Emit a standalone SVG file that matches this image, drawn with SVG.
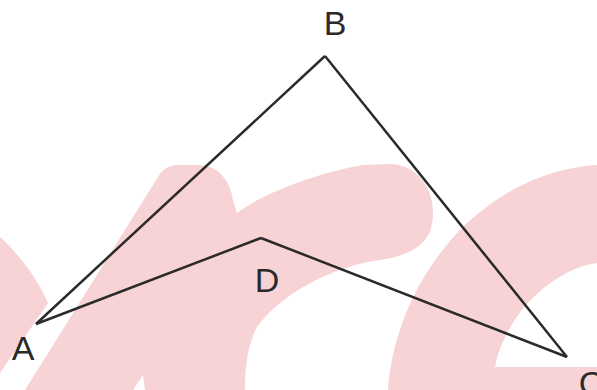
<svg xmlns="http://www.w3.org/2000/svg" width="597" height="390" viewBox="0 0 597 390">
<style>
.wm{fill:#f8d3d5;stroke:none}
.edge{stroke:#2a2a2a;stroke-width:2.5;fill:none;stroke-linejoin:miter}
.lbl{font-family:"Liberation Sans",Arial,sans-serif;font-size:34px;fill:#2a2a2a;text-anchor:middle}
</style>
<rect width="597" height="390" fill="#ffffff"/>
<g id="watermark">
<path class="wm" d="M0,237 C20,255 38,280 48,303 L0,373 Z"/>
<path class="wm" d="M25,390 L158,177 C163,168 170,165 180,165 L198,165 C218,165 230,180 233,200 L237,213 C263,193 320,172 363,165 L392,164 C418,166 433,188 433,213 C433,240 418,254 380,260 C330,267 280,295 257,327 C248,345 245,365 245,390 L145,390 L143,375 L133,390 Z"/>
<path class="wm" d="M388,390 C392,330 420,270 463,227 C500,192 545,168 597,165 L597,263 C560,268 525,300 510,328 C502,342 497,355 495,367 L597,367 L597,390 Z"/>
</g>
<g id="connectors">
<line id="AB" class="edge" x1="36" y1="324" x2="325" y2="56"/>
<line id="BC" class="edge" x1="325" y1="56" x2="567" y2="357"/>
<line id="AD" class="edge" x1="36" y1="324" x2="261" y2="238"/>
<line id="DC" class="edge" x1="261" y1="238" x2="567" y2="357"/>
</g>
<g id="node-A"><text class="lbl" x="23" y="360">A</text></g>
<g id="node-B"><text class="lbl" x="335" y="35">B</text></g>
<g id="node-C"><text class="lbl" x="591" y="395">C</text></g>
<g id="node-D"><text class="lbl" x="267" y="292">D</text></g>
</svg>
